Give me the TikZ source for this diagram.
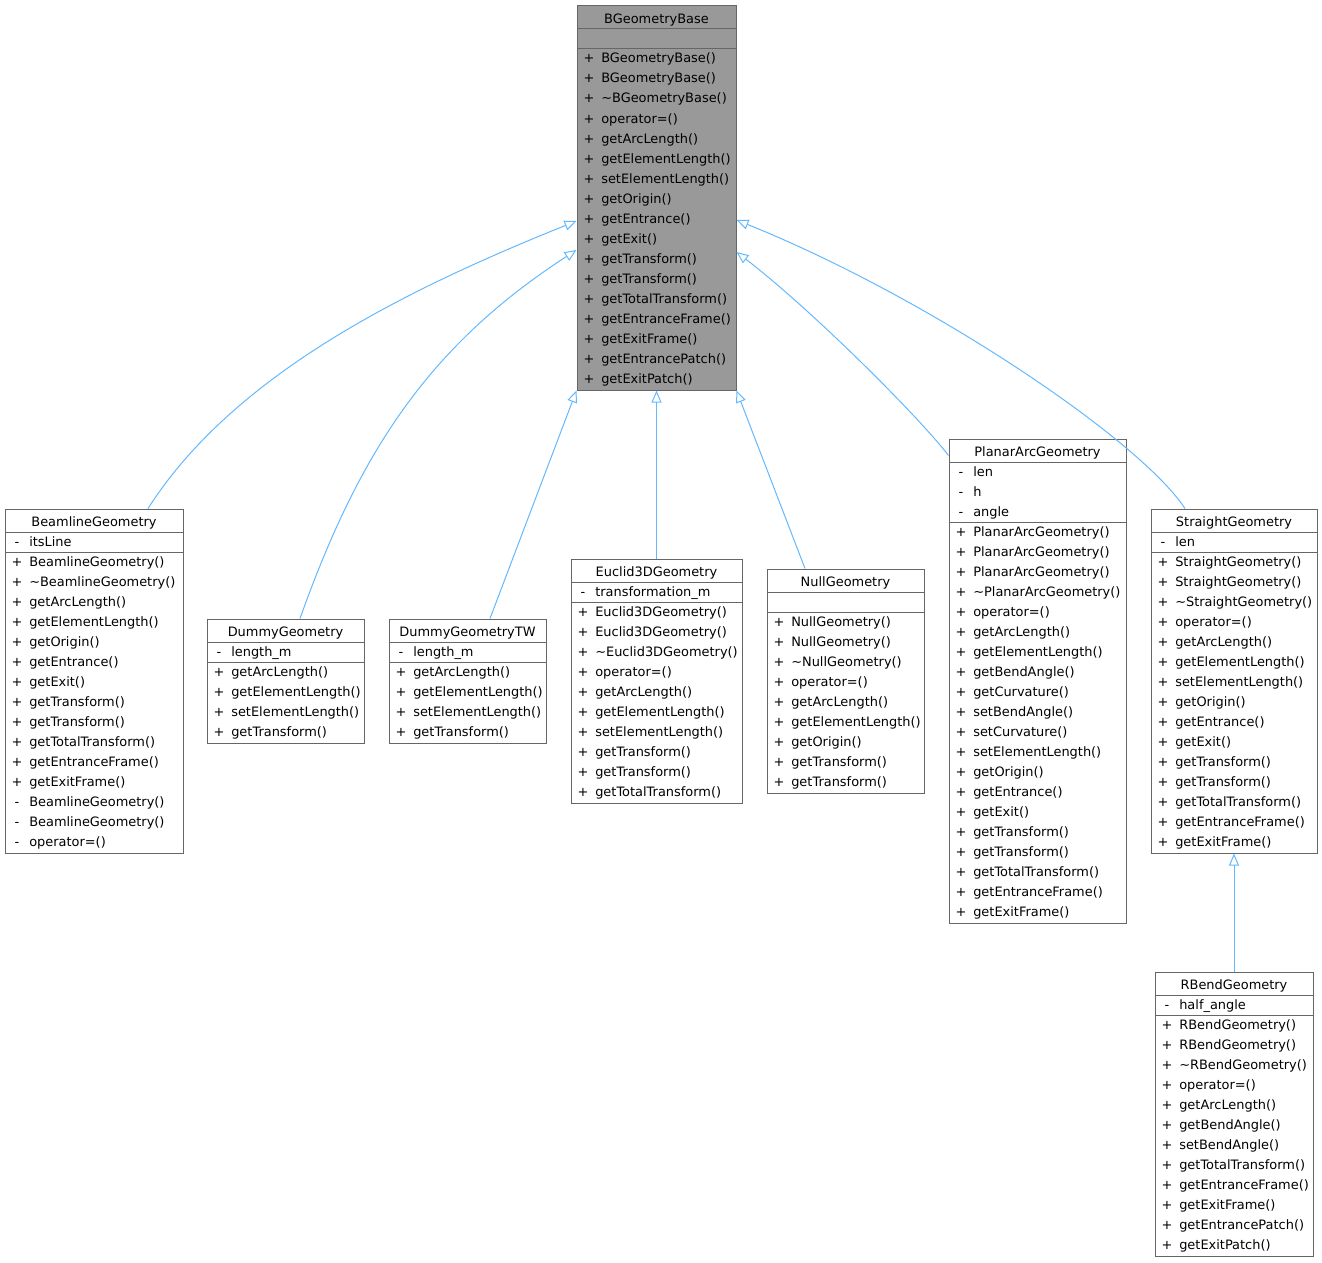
\documentclass[tikz,border=0pt]{standalone}
\usepackage{fontspec}
\setmainfont{DejaVu Sans}
\usetikzlibrary{arrows.meta, positioning, fit, calc}
\definecolor{edgeblue}{HTML}{63B8FF}
\definecolor{boxgray}{HTML}{666666}
\definecolor{basegray}{HTML}{999999}

\tikzset{
    classbox/.style={rectangle, draw=boxgray, line width=0.75pt, inner sep=0pt},
    classtitle/.style={font=\fontsize{9.7}{11}\selectfont, inner sep=0pt, anchor=base},
    visib/.style={font=\fontsize{9.7}{11}\selectfont, inner sep=0pt, anchor=base},
    member/.style={font=\fontsize{9.7}{11}\selectfont, inner sep=0pt, anchor=base west},
    rowsep/.style={draw=boxgray, line width=0.75pt},
    inherit/.style={draw=edgeblue, line width=0.75pt, -{Triangle[open, length=9pt, width=7.5pt]}}
}

% name, left, right, top, title, fill, attributes, methods
\newcommand{\umlclass}[8]{%
    \xdef\nattr{1}%
    \def\tmpattr{#7}%
    \ifx\tmpattr\empty\else
        \foreach[count=\k] \s/\m in {#7}{\xdef\nattr{\k}}%
    \fi
    \xdef\nmeth{0}%
    \foreach[count=\k] \s/\m in {#8}{\xdef\nmeth{\k}}%
    \pgfmathsetmacro\sepa{#4+23}%
    \pgfmathsetmacro\sepb{\sepa+20*\nattr}%
    \pgfmathsetmacro\bottom{\sepb+20*\nmeth+1}%
    \node[classbox, fill=#6, fit={(#2,#4) (#3,\bottom)}] (#1) {};
    \node[classtitle] (#1-title) at ({(#2+#3)/2}, #4+17.5) {#5};
    \draw[rowsep] (#2,\sepa) -- (#3,\sepa);
    \draw[rowsep] (#2,\sepb) -- (#3,\sepb);
    \ifx\tmpattr\empty\else
        \foreach[count=\k from 0] \s/\m in {#7}{
            \node[visib] (#1-as\k) at (#2+12, \sepa+14+20*\k) {\s};
            \node[member] (#1-a\k) at (#2+24, \sepa+14+20*\k) {\m};
        }
    \fi
    \foreach[count=\k from 0] \s/\m in {#8}{
        \node[visib] (#1-ms\k) at (#2+12, \sepb+14+20*\k) {\s};
        \node[member] (#1-m\k) at (#2+24, \sepb+14+20*\k) {\m};
    }
}

\begin{document}
\begin{tikzpicture}[x=0.75pt, y=-0.75pt]

\useasboundingbox (0,0) rectangle (1322,1263);

% Base class
\umlclass{base}{577}{736}{6}{BGeometryBase}{basegray}{}{%
    +/BGeometryBase(), +/BGeometryBase(), +/\textasciitilde BGeometryBase(), +/operator=(),
    +/getArcLength(), +/getElementLength(), +/setElementLength(), +/getOrigin(),
    +/getEntrance(), +/getExit(), +/getTransform(), +/getTransform(),
    +/getTotalTransform(), +/getEntranceFrame(), +/getExitFrame(),
    +/getEntrancePatch(), +/getExitPatch()}

% Derived classes
\umlclass{beamline}{5}{183}{509}{BeamlineGeometry}{white}{-/itsLine}{%
    +/BeamlineGeometry(), +/\textasciitilde BeamlineGeometry(), +/getArcLength(),
    +/getElementLength(), +/getOrigin(), +/getEntrance(), +/getExit(),
    +/getTransform(), +/getTransform(), +/getTotalTransform(),
    +/getEntranceFrame(), +/getExitFrame(), -/BeamlineGeometry(),
    -/BeamlineGeometry(), -/operator=()}

\umlclass{dummy}{207}{364}{619}{DummyGeometry}{white}{-/length\_m}{%
    +/getArcLength(), +/getElementLength(), +/setElementLength(), +/getTransform()}

\umlclass{dummytw}{389}{546}{619}{DummyGeometryTW}{white}{-/length\_m}{%
    +/getArcLength(), +/getElementLength(), +/setElementLength(), +/getTransform()}

\umlclass{euclid}{571}{742}{559}{Euclid3DGeometry}{white}{-/transformation\_m}{%
    +/Euclid3DGeometry(), +/Euclid3DGeometry(), +/\textasciitilde Euclid3DGeometry(),
    +/operator=(), +/getArcLength(), +/getElementLength(), +/setElementLength(),
    +/getTransform(), +/getTransform(), +/getTotalTransform()}

\umlclass{null}{767}{924}{569}{NullGeometry}{white}{}{%
    +/NullGeometry(), +/NullGeometry(), +/\textasciitilde NullGeometry(), +/operator=(),
    +/getArcLength(), +/getElementLength(), +/getOrigin(), +/getTransform(),
    +/getTransform()}

\umlclass{planar}{949}{1126}{439}{PlanarArcGeometry}{white}{-/len, -/h, -/angle}{%
    +/PlanarArcGeometry(), +/PlanarArcGeometry(), +/PlanarArcGeometry(),
    +/\textasciitilde PlanarArcGeometry(), +/operator=(), +/getArcLength(),
    +/getElementLength(), +/getBendAngle(), +/getCurvature(), +/setBendAngle(),
    +/setCurvature(), +/setElementLength(), +/getOrigin(), +/getEntrance(),
    +/getExit(), +/getTransform(), +/getTransform(), +/getTotalTransform(),
    +/getEntranceFrame(), +/getExitFrame()}

\umlclass{straight}{1151}{1317}{509}{StraightGeometry}{white}{-/len}{%
    +/StraightGeometry(), +/StraightGeometry(), +/\textasciitilde StraightGeometry(),
    +/operator=(), +/getArcLength(), +/getElementLength(), +/setElementLength(),
    +/getOrigin(), +/getEntrance(), +/getExit(), +/getTransform(), +/getTransform(),
    +/getTotalTransform(), +/getEntranceFrame(), +/getExitFrame()}

\umlclass{rbend}{1155}{1313}{972}{RBendGeometry}{white}{-/half\_angle}{%
    +/RBendGeometry(), +/RBendGeometry(), +/\textasciitilde RBendGeometry(),
    +/operator=(), +/getArcLength(), +/getBendAngle(), +/setBendAngle(),
    +/getTotalTransform(), +/getEntranceFrame(), +/getExitFrame(),
    +/getEntrancePatch(), +/getExitPatch()}

% Arrow ends on the base class
\coordinate (base-w1) at ($(base.west)+(0,23)$);
\coordinate (base-w2) at ($(base.west)+(0,52)$);
\coordinate (base-e1) at ($(base.east)+(0,22)$);
\coordinate (base-e2) at ($(base.east)+(0,54)$);

% Inheritance
\draw[inherit] ($(beamline.north)+(54,0)$) .. controls (234,374) and (405,290) .. (base-w1);
\draw[inherit] ($(dummy.north)+(14.5,0)$) .. controls (360,450) and (430,345) .. (base-w2);
\draw[inherit] ($(dummytw.north)+(22.5,0)$) -- (base.south west);
\draw[inherit] (euclid.north) -- (base.south);
\draw[inherit] ($(null.north)+(-40.5,0)$) -- (base.south east);
\draw[inherit] ($(planar.north west)+(0,17)$) .. controls (919,417) and (812,310) .. (base-e2);
\draw[inherit] ($(straight.north)+(-49,0)$) .. controls (1140,440) and (930,298) .. (base-e1);
\draw[inherit] (rbend.north) -- (straight.south);

\end{tikzpicture}
\end{document}
